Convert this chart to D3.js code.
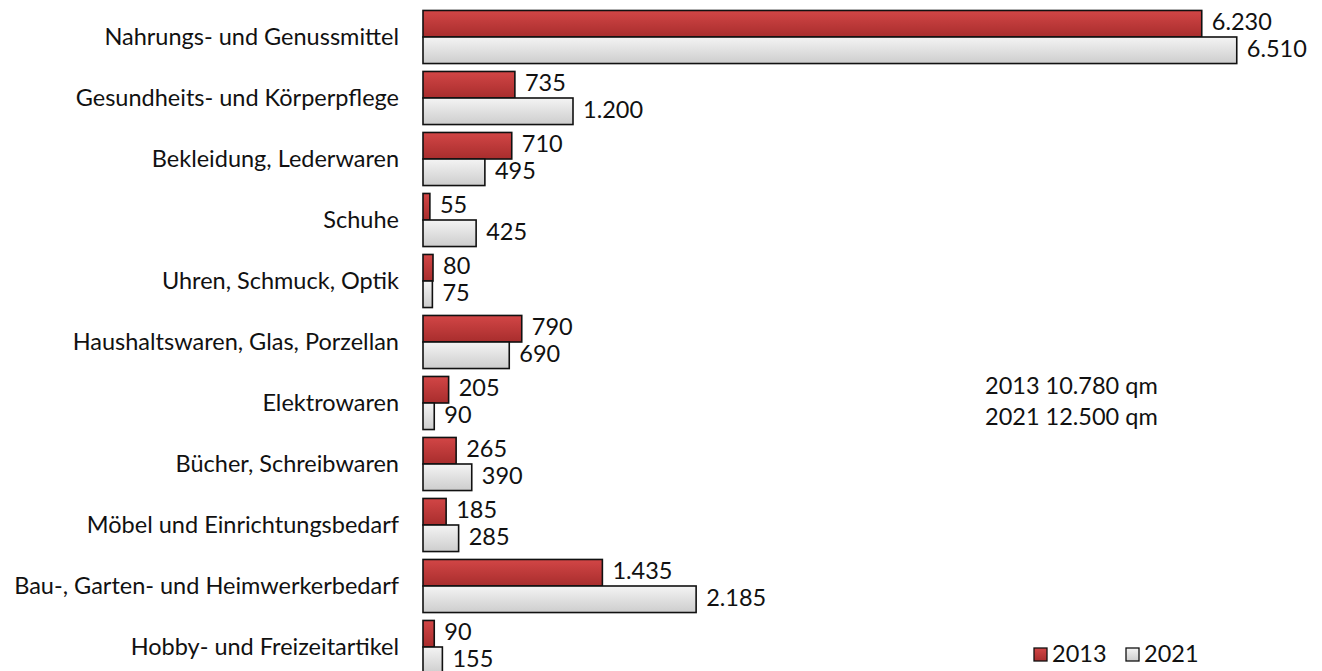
<!DOCTYPE html>
<html>
<head>
<meta charset="utf-8">
<script src="https://cdn.jsdelivr.net/npm/d3@7"></script>
<style>
  body { margin: 0; background: #fff; overflow: hidden; }
  text { font-family: Lato, "Open Sans", sans-serif; fill: #111; }
</style>
</head>
<body>
<div id="chart"></div>
<script>
const categories = [
    "Nahrungs- und Genussmittel",
    "Gesundheits- und Körperpflege",
    "Bekleidung, Lederwaren",
    "Schuhe",
    "Uhren, Schmuck, Optik",
    "Haushaltswaren, Glas, Porzellan",
    "Elektrowaren",
    "Bücher, Schreibwaren",
    "Möbel und Einrichtungsbedarf",
    "Bau-, Garten- und Heimwerkerbedarf",
    "Hobby- und Freizeitartikel",
];
const series = ["2013", "2021"];
const values2013 = [6230, 735, 710, 55, 80, 790, 205, 265, 185, 1435, 90];
const values2021 = [6510, 1200, 495, 425, 75, 690, 90, 390, 285, 2185, 155];
const totals = ["2013 10.780 qm", "2021 12.500 qm"];

const width = 1322;
const height = 671;
const fontSize = '23.5px';

const fmt = v => d3.format(",")(v).replace(/,/g, ".");

const svg = d3.select('#chart').append('svg')
    .attr('width', width)
    .attr('height', height);

const defs = svg.append('defs');
const gradRed = defs.append('linearGradient').attr('id', 'gRed')
    .attr('x1', 0).attr('y1', 0).attr('x2', 0).attr('y2', 1);
gradRed.append('stop').attr('offset', '0%').attr('stop-color', '#d24646');
gradRed.append('stop').attr('offset', '100%').attr('stop-color', '#a82d2d');
const gradGray = defs.append('linearGradient').attr('id', 'gGray')
    .attr('x1', 0).attr('y1', 0).attr('x2', 0).attr('y2', 1);
gradGray.append('stop').attr('offset', '0%').attr('stop-color', '#f4f4f4');
gradGray.append('stop').attr('offset', '100%').attr('stop-color', '#cdcdcd');
const fills = { "2013": 'url(#gRed)', "2021": 'url(#gGray)' };

// SCALES
const x = d3.scaleLinear()
    .domain([0, 7200])
    .range([423, 1323]);

const y = d3.scaleBand()
    .domain(categories)
    .range([6.5, 6.5 + 61 * categories.length])
    .paddingInner(0.13)
    .paddingOuter(0.065);

const ySub = d3.scaleBand()
    .domain(series)
    .range([0, y.bandwidth()]);

// category labels
svg.append('g')
    .selectAll('text')
    .data(categories)
    .join('text')
    .attr('x', 399)
    .attr('y', d => y(d) + y.bandwidth() / 2)
    .attr('dy', '0.35em')
    .attr('text-anchor', 'end')
    .style('font-size', fontSize)
    .text(d => d);

const rows = categories.map((c, i) => ({
    cat: c,
    vals: [
        { key: "2013", v: values2013[i] },
        { key: "2021", v: values2021[i] },
    ],
}));

const groups = svg.append('g')
    .selectAll('g')
    .data(rows)
    .join('g')
    .attr('transform', d => `translate(0,${y(d.cat)})`);

groups.selectAll('rect')
    .data(d => d.vals)
    .join('rect')
    .attr('x', x(0))
    .attr('y', d => ySub(d.key))
    .attr('width', d => x(d.v) - x(0))
    .attr('height', ySub.bandwidth())
    .attr('fill', d => fills[d.key])
    .attr('stroke', '#111')
    .attr('stroke-width', 1.6);

// value labels, nudged up a little so the bottom one stays inside
groups.selectAll('text')
    .data(d => d.vals)
    .join('text')
    .attr('x', d => x(d.v) + 10)
    .attr('y', d => ySub(d.key) + ySub.bandwidth() / 2)
    .attr('dy', '0.28em')
    .style('font-size', fontSize)
    .text(d => fmt(d.v));

// totals note
svg.append('g')
    .selectAll('text')
    .data(totals)
    .join('text')
    .attr('x', 985)
    .attr('y', (d, i) => 386 + i * 31)
    .attr('dy', '0.35em')
    .style('font-size', fontSize)
    .text(d => d);

// legend
const legend = svg.append('g')
    .selectAll('g')
    .data(series)
    .join('g')
    .attr('transform', (d, i) => `translate(${1034 + i * 92},648)`);

legend.append('rect')
    .attr('width', 13)
    .attr('height', 13)
    .attr('fill', d => fills[d])
    .attr('stroke', '#111')
    .attr('stroke-width', 1.3);

legend.append('text')
    .attr('x', 18)
    .attr('y', 7)
    .attr('dy', '0.3em')
    .style('font-size', fontSize)
    .text(d => d);
</script>
</body>
</html>
